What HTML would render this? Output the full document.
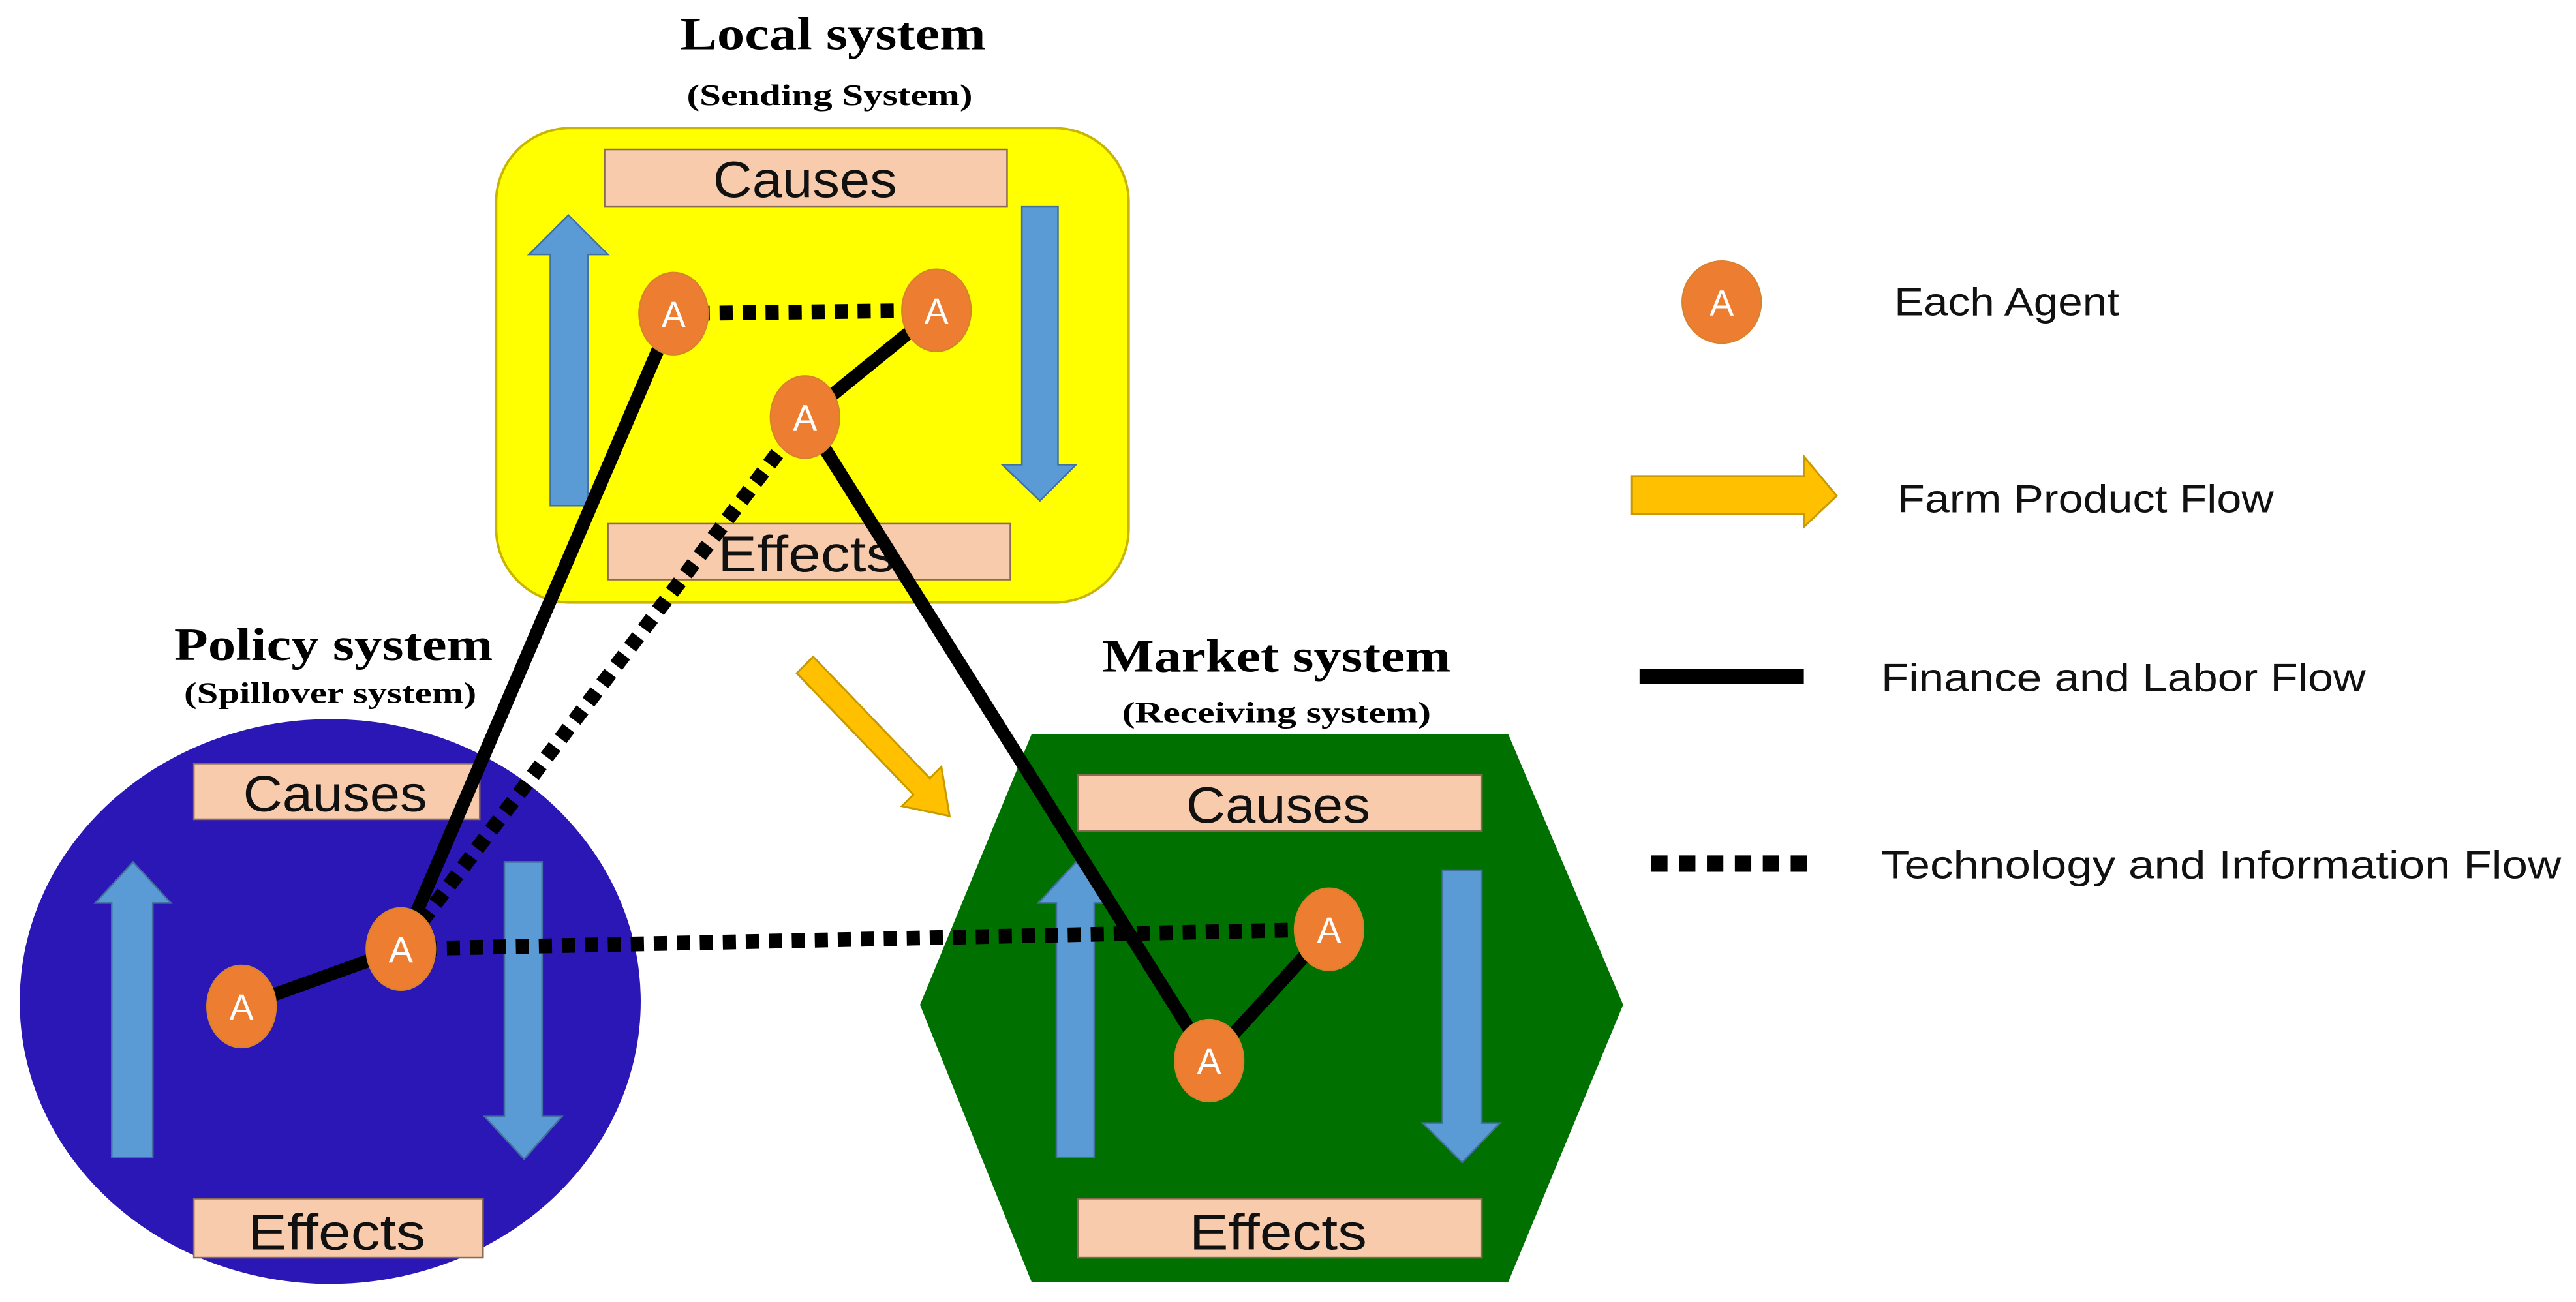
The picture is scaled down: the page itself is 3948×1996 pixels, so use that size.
<!DOCTYPE html>
<html><head><meta charset="utf-8"><style>
html,body{margin:0;padding:0;background:#fff;width:3948px;height:1996px;overflow:hidden}
svg{display:block}
.t{font-family:"Liberation Serif",serif;font-weight:bold;fill:#000;text-anchor:middle}
.b{font-family:"Liberation Sans",sans-serif;fill:#111;text-anchor:middle}
.l{font-family:"Liberation Sans",sans-serif;fill:#111;font-size:24px}
.a{font-family:"Liberation Sans",sans-serif;fill:#fff;text-anchor:middle;font-size:22px}
</style></head><body>
<svg width="3948" height="1996" viewBox="0 0 1568 793" preserveAspectRatio="none" xmlns="http://www.w3.org/2000/svg">
<text class="t" x="507" y="30" font-size="28" textLength="186" lengthAdjust="spacingAndGlyphs">Local system</text>
<text class="t" x="505" y="64" font-size="18" textLength="174" lengthAdjust="spacingAndGlyphs">(Sending System)</text>
<text class="t" x="203" y="402" font-size="28" textLength="194" lengthAdjust="spacingAndGlyphs">Policy system</text>
<text class="t" x="201" y="428" font-size="18" textLength="178" lengthAdjust="spacingAndGlyphs">(Spillover system)</text>
<text class="t" x="777" y="409" font-size="28" textLength="212" lengthAdjust="spacingAndGlyphs">Market system</text>
<text class="t" x="777" y="440" font-size="18" textLength="188" lengthAdjust="spacingAndGlyphs">(Receiving system)</text>

<rect x="302" y="78" width="385" height="289" rx="45" fill="#ffff00" stroke="#c9b400" stroke-width="1.5"/>
<ellipse cx="201" cy="610" rx="189" ry="172" fill="#2a17b5"/>
<polygon points="560,612 628,447 918,447 988,612 918,781 628,781" fill="#007000"/>

<g fill="#f8cbad" stroke="#8a6a50" stroke-width="1">
<rect x="368" y="91" width="245" height="35"/>
<rect x="370" y="319" width="245" height="34"/>
<rect x="118" y="465" width="174" height="34"/>
<rect x="118" y="730" width="176" height="36"/>
<rect x="656" y="472" width="246" height="34"/>
<rect x="656" y="730" width="246" height="36"/>
</g>
<g class="b" font-size="31">
<text x="490" y="120" textLength="112" lengthAdjust="spacingAndGlyphs">Causes</text>
<text x="491" y="348" textLength="108" lengthAdjust="spacingAndGlyphs">Effects</text>
<text x="204" y="494" textLength="112" lengthAdjust="spacingAndGlyphs">Causes</text>
<text x="205" y="761" textLength="108" lengthAdjust="spacingAndGlyphs">Effects</text>
<text x="778" y="501" textLength="112" lengthAdjust="spacingAndGlyphs">Causes</text>
<text x="778" y="761" textLength="108" lengthAdjust="spacingAndGlyphs">Effects</text>
</g>

<g fill="#5b9bd5" stroke="#41719c" stroke-width="1">
<polygon points="335,308 358,308 358,155 370,155 346,131 322,155 335,155"/>
<polygon points="622,126 644,126 644,283 655,283 633,305 610,283 622,283"/>
<polygon points="68,705 93,705 93,550 104,550 81,525 58,550 68,550"/>
<polygon points="307,525 330,525 330,680 342,680 319,706 295,680 307,680"/>
<polygon points="643,705 666,705 666,550 678,550 655,525 632,550 643,550"/>
<polygon points="878,530 902,530 902,684 913,684 890,708 866,684 878,684"/>
</g>

<polygon points="495,400 566,474 573,467 578,497 549,491 556,484 485,410" fill="#ffc000" stroke="#c89a00" stroke-width="1.2"/>

<g stroke="#000" stroke-width="8" fill="none">
<line x1="410" y1="191" x2="244" y2="578"/>
<line x1="490" y1="254" x2="736" y2="646"/>
<line x1="490" y1="254" x2="570" y2="189"/>
<line x1="147" y1="613" x2="244" y2="578"/>
<line x1="736" y1="646" x2="809" y2="566"/>
</g>
<g stroke="#000" stroke-width="9" fill="none" stroke-dasharray="8 6">
<line x1="410" y1="191" x2="570" y2="189"/>
<line x1="490" y1="254" x2="244" y2="578"/>
<line x1="244" y1="578" x2="809" y2="566"/>
</g>

<g fill="#ed7d31" stroke="#d9822b" stroke-width="1">
<ellipse cx="410" cy="191" rx="21" ry="25"/>
<ellipse cx="570" cy="189" rx="21" ry="25"/>
<ellipse cx="490" cy="254" rx="21" ry="25"/>
<ellipse cx="147" cy="613" rx="21" ry="25"/>
<ellipse cx="244" cy="578" rx="21" ry="25"/>
<ellipse cx="809" cy="566" rx="21" ry="25"/>
<ellipse cx="736" cy="646" rx="21" ry="25"/>
<ellipse cx="1048" cy="184" rx="24" ry="25"/>
</g>
<g class="a">
<text x="410" y="199">A</text><text x="570" y="197">A</text><text x="490" y="262">A</text>
<text x="147" y="621">A</text><text x="244" y="586">A</text><text x="809" y="574">A</text>
<text x="736" y="654">A</text><text x="1048" y="192">A</text>
</g>

<polygon points="993,290 1098,290 1098,278 1118,302 1098,321 1098,313 993,313" fill="#ffc000" stroke="#c89a00" stroke-width="1.2"/>
<line x1="998" y1="412" x2="1098" y2="412" stroke="#000" stroke-width="9"/>
<line x1="1005" y1="526" x2="1105" y2="526" stroke="#000" stroke-width="10" stroke-dasharray="10 7"/>
<text class="l" x="1153" y="192" textLength="137" lengthAdjust="spacingAndGlyphs">Each Agent</text>
<text class="l" x="1155" y="312" textLength="229" lengthAdjust="spacingAndGlyphs">Farm Product Flow</text>
<text class="l" x="1145" y="421" textLength="295" lengthAdjust="spacingAndGlyphs">Finance and  Labor Flow</text>
<text class="l" x="1145" y="535" textLength="414" lengthAdjust="spacingAndGlyphs">Technology and  Information Flow</text>
</svg>
</body></html>
